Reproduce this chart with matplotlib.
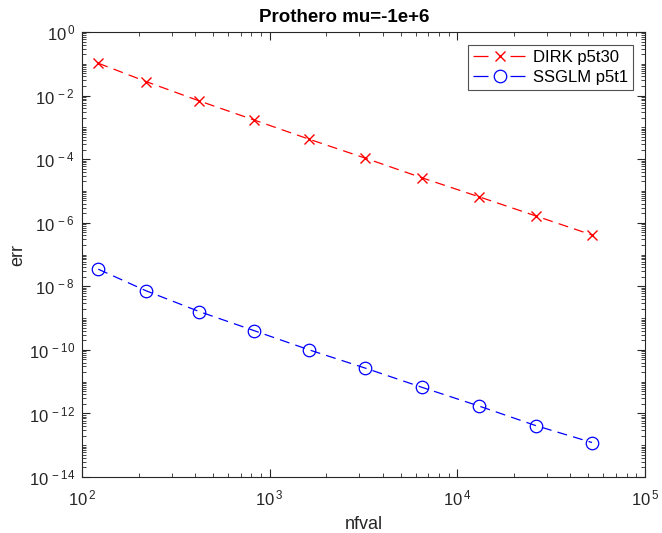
import numpy as np
import matplotlib
matplotlib.use("Agg")
import matplotlib.pyplot as plt
from matplotlib.ticker import LogLocator, NullFormatter

plt.rcParams['font.family'] = ['Liberation Sans', 'DejaVu Sans']
plt.rcParams['mathtext.default'] = 'regular'

nfval = [122, 220, 422, 825, 1625, 3240, 6450, 13000, 26200, 52300]
err_dirk = [1.04e-1, 2.74e-2, 6.76e-3, 1.71e-3, 4.23e-4, 1.07e-4, 2.62e-5, 6.62e-6, 1.64e-6, 4.13e-7]
err_ssglm = [3.45e-8, 7.17e-9, 1.60e-9, 4.04e-10, 1.0e-10, 2.66e-11, 6.71e-12, 1.73e-12, 4.16e-13, 1.22e-13]
yexp = list(range(-14, 1, 2))
xexp = [2, 3, 4, 5]

fig = plt.figure(figsize=(6.62, 5.33), dpi=100)
ax = fig.add_axes([0.124, 0.105, 0.850, 0.835])

ax.loglog(nfval, err_dirk, linestyle=(0, (8, 5)), color='red', marker='x',
          markersize=7, markeredgewidth=1.0, linewidth=0.9, label='DIRK p5t30')
ax.loglog(nfval, err_ssglm, linestyle=(0, (8, 5)), color='blue', marker='o',
          markerfacecolor='none', markersize=9, markeredgewidth=0.9, linewidth=0.9,
          label='SSGLM p5t1')

ax.set_xlim(1e2, 1e5)
ax.set_ylim(1e-14, 1e0)
ax.set_yticks([10.0**k for k in yexp])
ax.set_yticklabels([r'$10^{\,%d}$' % k for k in yexp])
ax.set_xticks([10.0**k for k in xexp])
ax.set_xticklabels([r'$10^{\,%d}$' % k for k in xexp])
ax.yaxis.set_minor_locator(LogLocator(base=10, subs=np.arange(1, 10), numticks=40))
ax.xaxis.set_minor_locator(LogLocator(base=10, subs=np.arange(2, 10), numticks=40))
ax.yaxis.set_minor_formatter(NullFormatter())
ax.xaxis.set_minor_formatter(NullFormatter())

ax.tick_params(which='both', direction='in', top=True, right=True, labelsize=12, colors='#262626')
ax.tick_params(which='major', length=6, width=0.8)
ax.tick_params(axis='x', which='major', pad=8)
ax.tick_params(axis='y', which='major', pad=5)
ax.tick_params(which='minor', length=3, width=0.6)
for s in ax.spines.values():
    s.set_color('#262626')
    s.set_linewidth(0.8)

ax.set_title('Prothero mu=-1e+6', fontsize=13.5, fontweight='bold', pad=7, x=0.465)
ax.set_xlabel('nfval', fontsize=13, color='#262626', labelpad=6)
ax.set_ylabel('err', fontsize=13, color='#262626', labelpad=2)

leg = ax.legend(loc='upper right', fontsize=12, frameon=True, fancybox=False,
                edgecolor='#262626', handlelength=3.2, handletextpad=0.4,
                borderpad=0.3, borderaxespad=0, labelspacing=0.3,
                bbox_to_anchor=(0.979, 0.971))
leg.get_frame().set_linewidth(0.8)
for ln in leg.get_lines():
    ln.set_dashes((12, 17.6))

fig.savefig('out.png', dpi=100)
